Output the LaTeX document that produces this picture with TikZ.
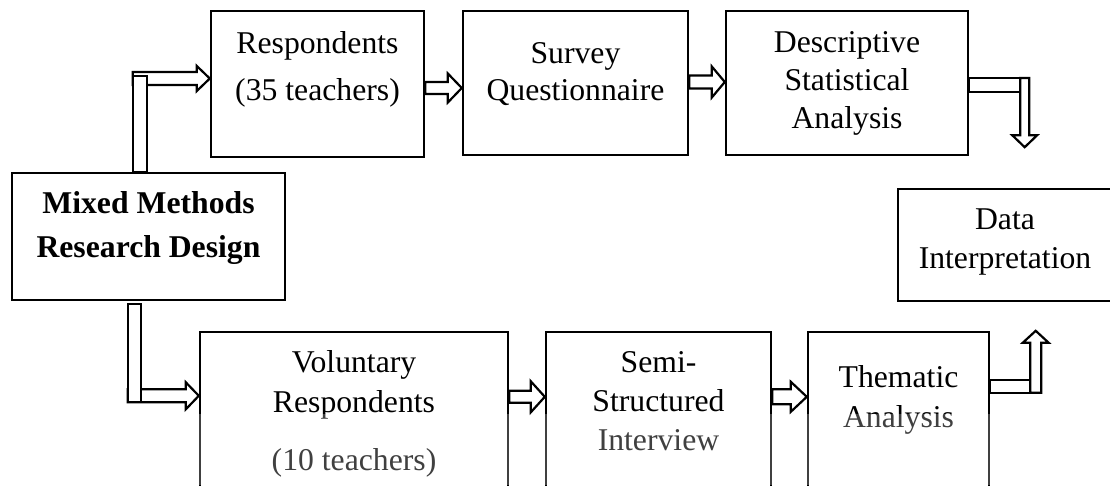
\documentclass[tikz,border=0pt]{standalone}
\usepackage{fontspec}
\setmainfont{Liberation Serif}
\usetikzlibrary{calc}
\tikzset{
  box/.style={draw, line width=2.4pt, rectangle, inner sep=0pt},
  txt/.style={font=\fontsize{31.7}{39}\selectfont, align=center, inner sep=0pt, anchor=base},
  btxt/.style={txt, font=\fontsize{31.7}{39}\selectfont\bfseries},
  blk/.style={draw, line width=2.2pt, fill=white, line join=miter},
}
% right block arrow: #1 tail, #2 tip, #3 shaft half width, #4 head half width, #5 head length
\newcommand\rblk[5]{\draw[blk] ($(#1|-#2)+(0,-#3)$) -- ($(#2)+(-#5,-#3)$) -- ($(#2)+(-#5,-#4)$) -- (#2) -- ($(#2)+(-#5,#4)$) -- ($(#2)+(-#5,#3)$) -- ($(#1|-#2)+(0,#3)$) -- cycle;}
% down block arrow
\newcommand\dblk[5]{\draw[blk] ($(#2|-#1)+(-#3,0)$) -- ($(#2)+(-#3,-#5)$) -- ($(#2)+(-#4,-#5)$) -- (#2) -- ($(#2)+(#4,-#5)$) -- ($(#2)+(#3,-#5)$) -- ($(#2|-#1)+(#3,0)$) -- cycle;}
% up block arrow
\newcommand\ublk[5]{\draw[blk] ($(#2|-#1)+(-#3,0)$) -- ($(#2)+(-#3,#5)$) -- ($(#2)+(-#4,#5)$) -- (#2) -- ($(#2)+(#4,#5)$) -- ($(#2)+(#3,#5)$) -- ($(#2|-#1)+(#3,0)$) -- cycle;}
\begin{document}
\begin{tikzpicture}[x=1pt,y=-1pt]
\useasboundingbox (0,0) rectangle (1110,485);
\clip (0,0) rectangle (1110,485);
\fill[white] (0,0) rectangle (1110,485);
% boxes
\node[box, minimum width=273, minimum height=127] (mm) at (148.5,236.5) {};
\node[box, minimum width=213, minimum height=146] (r) at (317.5,84) {};
\node[box, minimum width=225, minimum height=144] (sq) at (575.5,83) {};
\node[box, minimum width=242, minimum height=144] (dsa) at (847,83) {};
\node[box, minimum width=222, minimum height=112] (di) at (1009,245) {};
\node[box, minimum width=308, minimum height=208] (vr) at (354,436) {};
\node[box, minimum width=225, minimum height=208] (ss) at (658.5,436) {};
\node[box, minimum width=181, minimum height=208] (ta) at (898.5,436) {};
% texts (anchor=base is the baseline of the last line)
\node[txt] (rt) at (317.5,100) {Respondents\\[8pt](35 teachers)};
\node[txt] (sqt) at (575.5,100) {Survey\\[-2pt]Questionnaire};
\node[txt] (dsat) at (847,128) {Descriptive\\[-1pt]Statistical\\[-1pt]Analysis};
\node[btxt] (mmt) at (148.5,257) {Mixed Methods\\[5pt]Research Design};
\node[txt] (dit) at (1005,268) {Data\\Interpretation};
\node[txt] (vrt) at (354,470) {Voluntary\\[1pt]Respondents\\[19pt](10 teachers)};
\node[txt] (sst) at (658.5,450) {Semi-\\Structured\\Interview};
\node[txt] (tat) at (898.5,427) {Thematic\\[1pt]Analysis};
% connector coordinates
\coordinate (a1) at ($(sq.west)+(0,5)$);
\coordinate (a2) at ($(dsa.west)+(0,-1)$);
\coordinate (d0) at ($(dsa.east)+(0,-5)$);
\coordinate (d1) at ($(dsa.south east)+(55.5,-9)$);
\coordinate (u1) at ($(ta.north east)+(45.5,0)$);
\coordinate (u0) at ($(ta.north east)+(0,62)$);
\coordinate (m0) at ($(mm.north west)+(122,0)$);
\coordinate (m1) at ($(r.west)+(0,-5.5)$);
\coordinate (v0) at ($(mm.south west)+(117,0)$);
\coordinate (v1) at ($(vr.north west)+(0,65)$);
\coordinate (s1) at ($(ss.north west)+(0,66)$);
\coordinate (t1) at ($(ta.north west)+(0,66)$);
% top row arrows
\rblk{r.east}{a1}{6}{14.5}{14}
\rblk{sq.east}{a2}{6.5}{15.5}{13}
% descriptive -> down
\draw[blk] (d0) rectangle ($(d1|-dsa.east)+(4.5,9)$);
\dblk{d0}{d1}{4.5}{12.5}{12}
% thematic -> up
\draw[blk] ($(ta.north east)+(0,49)$) rectangle ($(u1|-u0)+(5.5,0)$);
\ublk{u0}{u1}{5.5}{13}{12}
% mixed -> respondents
\rblk{m0}{m1}{6.5}{12.5}{13}
\draw[blk] (m0|-mm.north) rectangle ($(m0|-m1)+(14,-2.5)$);
% mixed -> voluntary
\rblk{v0}{v1}{6.5}{13.5}{13}
\draw[blk] ($(v0)+(0,3)$) rectangle ($(v0|-v1)+(13,6.5)$);
% bottom row arrows
\rblk{vr.east}{s1}{6}{15.5}{14}
\rblk{ss.east}{t1}{7.5}{15}{16}
% faded lower band
\fill[white, opacity=0.25] (190,414) rectangle (990,485);
\end{tikzpicture}
\end{document}
